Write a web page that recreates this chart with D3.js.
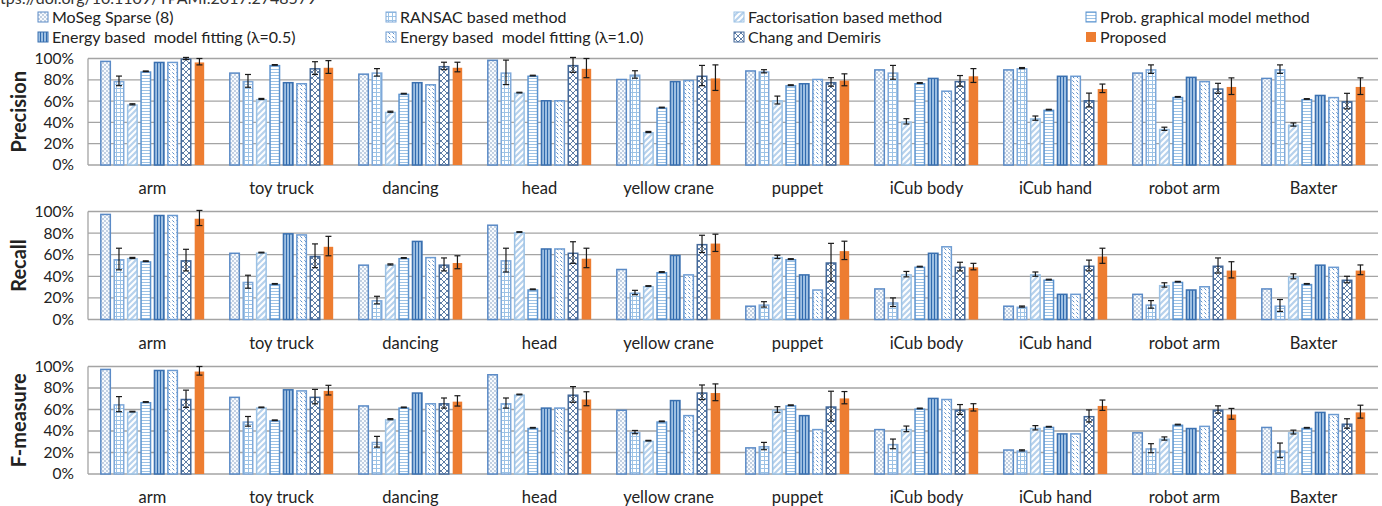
<!DOCTYPE html>
<html>
<head>
<meta charset="utf-8">
<script src="https://cdn.jsdelivr.net/npm/d3@7"></script>
<style>
  body { margin: 0; background: #fff; }
  svg text { font-family: Lato, "Open Sans", sans-serif; fill: #222; }
</style>
</head>
<body>
<svg id="chart" width="1382" height="506"></svg>
<script>
// ---- data ----
const categories = ["arm", "toy truck", "dancing", "head", "yellow crane", "puppet",
                    "iCub body", "iCub hand", "robot arm", "Baxter"];
const seriesNames = ["MoSeg Sparse (8)", "RANSAC based method", "Factorisation based method",
                     "Prob. graphical model method", "Energy based  model fitting (\u03bb=0.5)",
                     "Energy based  model fitting (\u03bb=1.0)", "Chang and Demiris", "Proposed"];
const yTicks = [0, 20, 40, 60, 80, 100];
const metricNames = ["Precision", "Recall", "F-measure"];

// one row per series, one value per category (%)
const precision = [
  [98, 87, 86, 99, 81, 89, 90, 90, 87, 82],
  [79, 79, 87, 87, 85, 88, 87, 91, 90, 90],
  [57, 62, 50, 68, 31, 61, 41, 44, 34, 38],
  [88, 94, 67, 84, 54, 75, 77, 52, 64, 62],
  [97, 78, 78, 61, 79, 77, 82, 84, 83, 66],
  [97, 77, 76, 61, 80, 81, 70, 84, 79, 64],
  [100, 91, 93, 94, 84, 78, 79, 61, 72, 60],
  [97, 92, 92, 91, 82, 80, 84, 72, 74, 74]
];
const precisionErr = [
  null,
  [4.5, 6, 3.5, 11.5, 3.5, 1.5, 6.5, 0.5, 4, 4],
  [0.5, 0.5, 0.5, 0.3, 0.5, 3.7, 2.5, 2, 1.5, 1.5],
  [0.3, 0.3, 0.3, 0.3, 0.3, 0.3, 0.3, 0.3, 0.3, 0.3],
  null,
  null,
  [1, 6, 3.5, 7, 9.5, 4, 5, 6.5, 4.7, 7.3],
  [3, 6, 4.5, 9, 12, 5.6, 6.5, 4, 7.8, 7.8]
];

const recall = [
  [98, 62, 51, 88, 47, 13, 29, 13, 24, 29],
  [56, 35, 18, 55, 25, 14, 16, 12, 14, 13],
  [57, 62, 51, 81, 31, 58, 42, 42, 32, 40],
  [54, 33, 57, 28, 44, 56, 49, 37, 35, 33],
  [97, 80, 73, 66, 60, 42, 62, 24, 28, 51],
  [97, 79, 58, 66, 42, 28, 68, 24, 31, 49],
  [55, 59, 51, 62, 70, 53, 49, 50, 50, 37],
  [94, 68, 53, 57, 71, 64, 49, 59, 46, 46]
];
const recallErr = [
  null,
  [10, 6, 3.5, 11, 2, 2.5, 4, 0.5, 3.5, 5.5],
  [0.5, 0.3, 0.5, 0.3, 0.3, 1.5, 2.5, 2, 2, 2.3],
  [0.3, 0.3, 0.3, 0.3, 0.3, 0.3, 0.3, 0.3, 0.3, 0.3],
  null,
  null,
  [10, 11, 6, 10, 8, 17.5, 4, 5, 7, 3],
  [7, 9, 6, 9, 8, 8.5, 3, 7, 7.5, 4.5]
];

const fmeasure = [
  [98, 72, 64, 93, 60, 25, 42, 23, 39, 44],
  [65, 49, 30, 66, 39, 26, 28, 22, 24, 22],
  [58, 62, 51, 74, 31, 60, 42, 43, 33, 39],
  [67, 50, 62, 43, 49, 64, 61, 44, 46, 43],
  [97, 79, 76, 62, 69, 55, 71, 38, 43, 58],
  [97, 78, 66, 62, 55, 42, 70, 38, 45, 56],
  [70, 72, 66, 74, 76, 63, 60, 54, 60, 47],
  [96, 78, 68, 70, 76, 71, 62, 64, 56, 58]
];
const fmeasureErr = [
  null,
  [7, 4.5, 5, 4.7, 1.5, 3.4, 4.5, 0.5, 4.2, 6.8],
  [0.3, 0.3, 0.5, 0.3, 0.3, 2.6, 2.6, 2, 1.5, 1.8],
  [0.3, 0.3, 0.3, 0.3, 0.3, 0.3, 0.3, 0.3, 0.3, 0.3],
  null,
  null,
  [8, 6.7, 4.7, 7.3, 6.8, 14, 4.6, 5.6, 3.4, 4.4],
  [4, 4.5, 4.8, 6.5, 7.8, 5.7, 3.4, 4.8, 5, 6]
];

const metricValues = [precision, recall, fmeasure];
const metricErrors = [precisionErr, recallErr, fmeasureErr];

// ---- layout ----
const svg = d3.select("#chart");
const plotLeft = 88, plotRight = 1378;
const panels = [
  { top: 58.5, bottom: 165 },
  { top: 211.5, bottom: 319.5 },
  { top: 366.5, bottom: 474 }
];
const gridColor = "#a4a4a4";

// ---- fill patterns ----
const defs = svg.append("defs");
function makePattern(id, w, h, bg, draw) {
  const p = defs.append("pattern")
    .attr("id", id)
    .attr("patternUnits", "userSpaceOnUse")
    .attr("width", w)
    .attr("height", h);
  p.append("rect").attr("width", w).attr("height", h).attr("fill", bg);
  draw(p);
}
makePattern("p-dots", 4, 4, "#f8fbfe", p => {
  p.append("circle").attr("cx", 1).attr("cy", 1).attr("r", 0.65).attr("fill", "#5f82b0");
  p.append("circle").attr("cx", 3).attr("cy", 3).attr("r", 0.65).attr("fill", "#5f82b0");
});
makePattern("p-grid", 4, 4, "#fff", p => {
  p.append("path").attr("d", "M0,0.5H4M0.5,0V4").attr("stroke", "#9cc2e5").attr("stroke-width", 1);
});
makePattern("p-diag", 6, 6, "#fff", p => {
  p.append("path").attr("d", "M-1,1L1,-1M0,6L6,0M5,7L7,5")
    .attr("stroke", "#b6d1ec").attr("stroke-width", 2.2);
});
makePattern("p-horiz", 4, 3, "#fff", p => {
  p.append("path").attr("d", "M0,0.5H4").attr("stroke", "#9cc2e5").attr("stroke-width", 1);
});
makePattern("p-vert", 3, 4, "#a9c8e8", p => {
  p.append("path").attr("d", "M1.5,0V4").attr("stroke", "#2f6aae").attr("stroke-width", 1.2);
});
makePattern("p-dash", 4, 4, "#fff", p => {
  p.append("path").attr("d", "M0.3,0.3L2.3,2.3").attr("stroke", "#5d8fc9").attr("stroke-width", 1);
});
makePattern("p-cross", 6, 6, "#fff", p => {
  p.append("path").attr("d", "M0,0L6,6M6,0L0,6").attr("stroke", "#4d6f9c").attr("stroke-width", 0.9);
});

const seriesFill = ["url(#p-dots)", "url(#p-grid)", "url(#p-diag)", "url(#p-horiz)",
                    "url(#p-vert)", "url(#p-dash)", "url(#p-cross)", "#ed7d31"];
const seriesStroke = ["#5a8ac6", "#7fa9da", "#9cc2e5", "#5b93cf",
                      "#3a70b0", "#6c9bd2", "#44699a", "none"];

// ---- scales ----
const x0 = d3.scaleBand()
  .domain(categories)
  .range([plotLeft, plotRight]);

const x1 = d3.scaleBand()
  .domain(d3.range(seriesNames.length))
  .range([0, x0.bandwidth()])
  .paddingInner(0.18)
  .paddingOuter(0.9);

// ---- header text (cut off at top, as in the source figure) ----
svg.append("text")
  .attr("x", 0)
  .attr("y", 4)
  .style("font-size", "16px")
  .style("fill", "#333")
  .text("tps://doi.org/10.1109/TPAMI.2017.2748579");

// ---- legend ----
const legendCols = [38, 386, 734, 1086];
const legendRows = [17, 37];
const legend = svg.append("g");
seriesNames.forEach((name, s) => {
  const lx = legendCols[s % 4], ly = legendRows[Math.floor(s / 4)];
  legend.append("rect")
    .attr("x", lx)
    .attr("y", ly - 5)
    .attr("width", 10)
    .attr("height", 10)
    .attr("fill", seriesFill[s])
    .attr("stroke", seriesStroke[s])
    .attr("stroke-width", 1);
  legend.append("text")
    .attr("x", lx + 14)
    .attr("y", ly)
    .attr("dy", "0.35em")
    .style("font-size", "16px")
    .style("white-space", "pre")
    .text(name);
});

// ---- panels ----
panels.forEach((panel, m) => {
  const g = svg.append("g");
  const y = d3.scaleLinear().domain([0, 100]).range([panel.bottom, panel.top]);
  const values = metricValues[m];
  const errors = metricErrors[m];

  // gridlines
  g.selectAll(".grid")
    .data(yTicks)
    .enter()
    .append("line")
      .attr("x1", plotLeft)
      .attr("x2", plotRight)
      .attr("y1", d => y(d))
      .attr("y2", d => y(d))
      .attr("stroke", gridColor)
      .attr("stroke-width", 1.3);

  g.append("line")
    .attr("x1", plotLeft).attr("x2", plotLeft)
    .attr("y1", y(100)).attr("y2", y(0))
    .attr("stroke", gridColor)
    .attr("stroke-width", 1.3);

  // y axis labels
  const axis = g.append("g")
    .attr("transform", `translate(${plotLeft},0)`)
    .call(d3.axisLeft(y).tickValues(yTicks).tickSize(0).tickPadding(14).tickFormat(d => d + "%"));
  axis.select(".domain").remove();
  axis.selectAll("text")
    .style("font-size", "15.5px")
    .style("font-family", "Lato, 'Open Sans', sans-serif")
    .attr("fill", "#222");

  // y title
  g.append("text")
    .attr("transform", `translate(19,${(panel.top + panel.bottom) / 2}) rotate(-90)`)
    .attr("text-anchor", "middle")
    .attr("dy", "0.35em")
    .style("font-size", "20px")
    .style("font-weight", "bold")
    .text(metricNames[m]);

  // category labels
  g.selectAll(".cat")
    .data(categories)
    .enter()
    .append("text")
      .attr("x", d => x0(d) + x0.bandwidth() / 2)
      .attr("y", panel.bottom + 29)
      .attr("text-anchor", "middle")
      .style("font-size", "16.5px")
      .text(d => d);

  // bars
  values.forEach((row, s) => {
    g.selectAll(null)
      .data(row)
      .enter()
      .append("rect")
        .attr("x", (d, i) => x0(categories[i]) + x1(s) + 0.75)
        .attr("y", d => y(d) + 0.75)
        .attr("width", x1.bandwidth() - 1.5)
        .attr("height", d => Math.max(0, y(0) - y(d) - 0.75))
        .attr("fill", seriesFill[s])
        .attr("stroke", seriesStroke[s])
        .attr("stroke-width", 1.5);
  });

  // error bars
  errors.forEach((row, s) => {
    if (!row) return;
    const cx = i => x0(categories[i]) + x1(s) + x1.bandwidth() / 2;
    const eg = g.append("g").attr("stroke", "#1a1a1a").attr("stroke-width", 1.2);
    row.forEach((e, i) => {
      const v = values[s][i];
      const yHi = y(v + e), yLo = y(v - e);
      eg.append("line").attr("x1", cx(i)).attr("x2", cx(i)).attr("y1", yHi).attr("y2", yLo);
      eg.append("line").attr("x1", cx(i) - 3).attr("x2", cx(i) + 3).attr("y1", yHi).attr("y2", yHi);
      eg.append("line").attr("x1", cx(i) - 3).attr("x2", cx(i) + 3).attr("y1", yLo).attr("y2", yLo);
    });
  });
});
</script>
</body>
</html>
